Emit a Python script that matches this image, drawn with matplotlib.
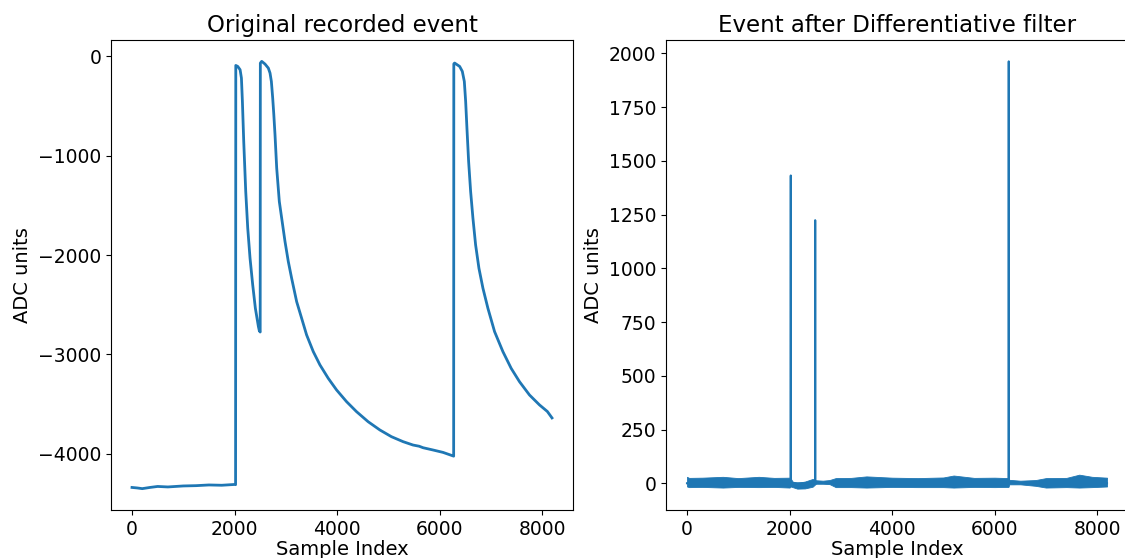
import matplotlib
matplotlib.use("Agg")
import matplotlib.pyplot as plt

# ---- Left panel: original recorded event (key points)
raw_x = [0, 100, 200, 350, 500, 700, 1000, 1250, 1500, 1750, 2000, 2020,
         2024, 2062, 2108, 2134, 2153, 2179, 2218, 2257, 2302, 2354, 2406,
         2465, 2484, 2500,
         2503, 2530, 2594, 2659, 2692, 2718, 2744, 2765, 2789, 2822, 2873,
         2984, 3048, 3113, 3211, 3308, 3405, 3535, 3665, 3827, 3989, 4184,
         4379, 4605, 4833, 5060, 5287, 5481, 5600, 5676, 5871, 6065, 6247,
         6273,
         6276, 6292, 6390, 6442, 6481, 6507, 6532, 6565, 6604, 6649, 6701,
         6766, 6844, 6941, 7071, 7233, 7395, 7557, 7752, 7947, 8100, 8191]
raw_y = [-4340, -4345, -4352, -4340, -4330, -4335, -4325, -4322, -4315, -4318,
         -4310, -4312,
         -91, -101, -134, -218, -453, -856, -1360, -1729, -2032, -2300, -2536,
         -2720, -2764, -2775,
         -67, -50, -77, -118, -168, -252, -420, -580, -789, -1125, -1461,
         -1864, -2065, -2233, -2469, -2636, -2804, -2972, -3106, -3241, -3358,
         -3476, -3577, -3678, -3761, -3829, -3879, -3913, -3925, -3940, -3963,
         -3987, -4020,
         -4025,
         -75, -67, -101, -151, -252, -453, -722, -1058, -1360, -1629, -1897,
         -2133, -2334, -2536, -2771, -2972, -3141, -3275, -3409, -3509, -3575,
         -3640]

# ---- Right panel: differentiated event
spike_x = [0, 2022, 2024, 2026, 2498, 2500, 2502, 6273, 6275, 6277, 8191]
spike_y = [0, 0, 1432, 0, 0, 1224, 0, 0, 1963, 0, 0]

# noise band envelope
band_x = [0, 40, 300, 700, 1000, 1400, 1700, 2000, 2022, 2060, 2150, 2300,
          2450, 2500, 2520, 2650, 2780, 2900, 3200, 3500, 4000, 4500, 5000,
          5200, 5600, 6000, 6270, 6285, 6500, 6800, 7000, 7400, 7650, 7900,
          8191]
band_hi = [30, 25, 26, 30, 24, 30, 25, 26, 22, 8, 2, 8,
           20, 15, 14, 12, 15, 24, 25, 32, 26, 24, 27,
           36, 25, 26, 24, 16, 12, 15, 24, 25, 40, 30,
           26]
band_lo = [-15, -18, -17, -20, -17, -18, -17, -20, -15, -18, -25, -24,
           -16, -5, -2, -2, -4, -18, -18, -20, -17, -18, -18,
           -20, -17, -18, -17, -5, -5, -12, -20, -18, -20, -18,
           -15]

titles = ["Original recorded event", "Event after Differentiative filter"]
xlabel = "Sample Index"
ylabel = "ADC units"
color = "#1f77b4"

fig = plt.figure(figsize=(11.25, 5.58), dpi=100)
ax1 = fig.add_axes([111 / 1125, 1 - 510 / 558, 462 / 1125, 470 / 558])
ax2 = fig.add_axes([666 / 1125, 1 - 510 / 558, 462 / 1125, 470 / 558])

ax1.plot(raw_x, raw_y, color=color, lw=2.0)
ax1.set_yticks([0, -1000, -2000, -3000, -4000])

ax2.fill_between(band_x, band_lo, band_hi, color=color, lw=0.6)
ax2.plot(spike_x, spike_y, color=color, lw=1.5)
ax2.set_yticks([0, 250, 500, 750, 1000, 1250, 1500, 1750, 2000])

for ax, t in zip((ax1, ax2), titles):
    ax.set_title(t, fontsize=16.5)
    ax.set_xlabel(xlabel, fontsize=14, labelpad=1)
    ax.set_ylabel(ylabel, fontsize=14)
    ax.tick_params(labelsize=13.5)
    ax.set_xticks([0, 2000, 4000, 6000, 8000])

fig.savefig("out.png", dpi=100)
